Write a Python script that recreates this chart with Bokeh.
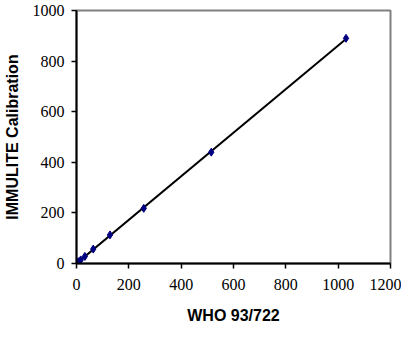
import numpy as np
from bokeh.plotting import figure
from bokeh.models import Range1d, FixedTicker
from bokeh.embed import file_html
from bokeh.resources import INLINE

who = [1, 2, 4, 8, 16, 32, 64, 128, 257, 515, 1030]
immulite = [1, 2, 3.5, 7, 14, 28, 57, 113, 218, 440, 890]
x_ticks = [0, 200, 400, 600, 800, 1000, 1200]
y_ticks = [0, 200, 400, 600, 800, 1000]

p = figure(width=400, height=327, output_backend="svg", toolbar_location=None,
           x_range=Range1d(0, 1200), y_range=Range1d(0, 1000),
           min_border_left=75, min_border_top=10, min_border_right=11, min_border_bottom=10)
p.frame_width = 314
p.frame_height = 253

slope, intercept = np.polyfit(who, immulite, 1)
xs = [0, max(who)]
p.line(xs, [intercept + slope * x for x in xs], line_color="black", line_width=2)
p.scatter(who, immulite, marker="diamond", size=8, fill_color="#000080", line_color="#000080")

p.xgrid.visible = False
p.ygrid.visible = False
p.outline_line_color = "#808080"
p.outline_line_width = 2
for ax, ticks in ((p.xaxis, x_ticks), (p.yaxis, y_ticks)):
    ax.ticker = FixedTicker(ticks=ticks)
    ax.minor_tick_line_color = None
    ax.major_tick_out = 5
    ax.major_tick_in = 0
    ax.major_tick_line_width = 1.5
    ax.axis_line_color = "black"
    ax.axis_line_width = 2
    ax.major_label_text_font = "Liberation Sans Narrow"
    ax.major_label_text_font_size = "16px"
    ax.major_label_text_color = "black"
    ax.axis_label_text_font = "Liberation Sans"
    ax.axis_label_text_font_size = "16px"
    ax.axis_label_text_font_style = "bold"
    ax.axis_label_text_color = "black"
p.xaxis.axis_label = "WHO 93/722"
p.yaxis.axis_label = "IMMULITE Calibration"
p.xaxis.major_label_standoff = 10
p.xaxis.axis_label_standoff = 14
p.yaxis.major_label_standoff = 7
p.yaxis.axis_label_standoff = 9

open("out.html", "w").write(file_html(p, INLINE))
